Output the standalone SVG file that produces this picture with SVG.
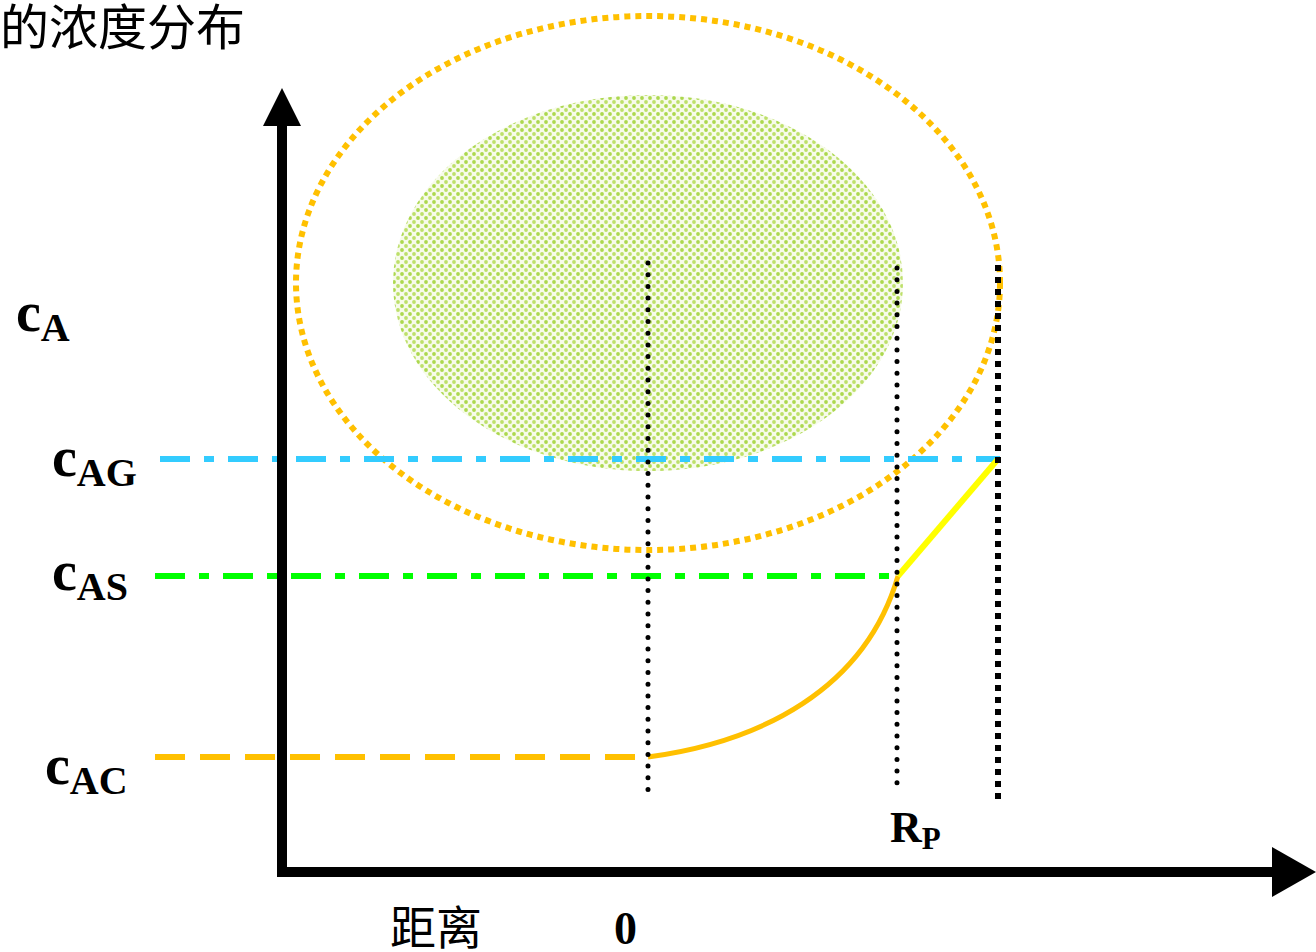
<svg xmlns="http://www.w3.org/2000/svg" width="1316" height="952" viewBox="0 0 1316 952">
<style>
.lbl{font-family:"Liberation Serif","Noto Serif",serif;font-weight:bold;fill:#000}
.cjk{font-family:"Liberation Serif","Noto Sans CJK SC",serif;fill:#000}
.axis{stroke:#000;stroke-width:10;fill:none}
.vdot{stroke:#000;stroke-width:5;fill:none;stroke-linecap:round;stroke-dasharray:0 11.7}
.vsq{stroke:#000;stroke-width:6;fill:none;stroke-dasharray:6 6}
</style>
<defs>
<pattern id="dots" width="8" height="8" patternUnits="userSpaceOnUse">
<rect width="8" height="8" fill="#f7fbea"/>
<circle cx="2" cy="2" r="1.9" fill="#acd84e"/>
<circle cx="6" cy="6" r="1.9" fill="#bde06a"/>
</pattern>
</defs>
<text class="cjk" x="0" y="45" font-size="49">的浓度分布</text>
<g id="particle">
<ellipse cx="648" cy="283" rx="255" ry="188" fill="url(#dots)"/>
</g>
<g id="film">
<ellipse cx="648" cy="283" rx="352" ry="267" fill="none" stroke="#ffc000" stroke-width="6" stroke-dasharray="6 5"/>
</g>
<g id="connectors">
<line x1="160" y1="459" x2="1000" y2="459" stroke="#33ccff" stroke-width="6" stroke-dasharray="30 14 10 14"/>
<line x1="155" y1="576" x2="898" y2="576" stroke="#00ff00" stroke-width="6" stroke-dasharray="30 14 10 14"/>
<line x1="155" y1="757" x2="648" y2="757" stroke="#ffc000" stroke-width="6" stroke-dasharray="30 15"/>
<path d="M648,757 C760,742 865,690 898,576" fill="none" stroke="#ffc000" stroke-width="5"/>
<line x1="898" y1="576" x2="998" y2="459" stroke="#ffff00" stroke-width="6"/>
<line class="vdot" x1="648" y1="263" x2="648" y2="792"/>
<line class="vdot" x1="897" y1="268" x2="897" y2="790"/>
<line class="vsq" x1="998" y1="265" x2="998" y2="805"/>
</g>
<g id="axes">
<line class="axis" x1="282" y1="120" x2="282" y2="872"/>
<polygon points="282,88 263,126 301,126" fill="#000"/>
<line class="axis" x1="277" y1="872" x2="1275" y2="872"/>
<polygon points="1316,872 1272,847 1272,897" fill="#000"/>
</g>
<g id="labels">
<text class="lbl" x="16" y="331" font-size="56">c<tspan font-size="40" dy="10">A</tspan></text>
<text class="lbl" x="52" y="476" font-size="56">c<tspan font-size="40" dy="10">AG</tspan></text>
<text class="lbl" x="52" y="590" font-size="56">c<tspan font-size="40" dy="10">AS</tspan></text>
<text class="lbl" x="45" y="784" font-size="56">c<tspan font-size="40" dy="10">AC</tspan></text>
<text class="lbl" x="890" y="842" font-size="44">R<tspan font-size="31" dy="7">P</tspan></text>
<text class="lbl" x="614" y="944" font-size="46">0</text>
<text class="cjk" x="390" y="944" font-size="46">距离</text>
</g>
</svg>
